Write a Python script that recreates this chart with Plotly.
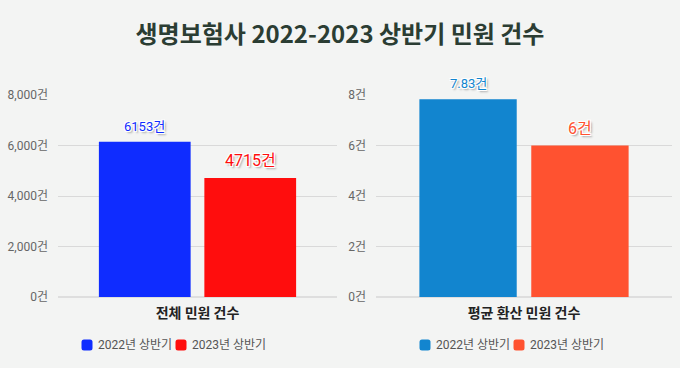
import plotly.graph_objects as go

# ---- data ----
title = "생명보험사 2022-2023 상반기 민원 건수"
series_names = ["2022년 상반기", "2023년 상반기"]
left_category = ["전체 민원 건수"]
left_values_2022 = [6153]
left_values_2023 = [4715]
right_category = ["평균 환산 민원 건수"]
right_values_2022 = [7.83]
right_values_2023 = [6]
left_ticks = [0, 2000, 4000, 6000, 8000]
right_ticks = [0, 2, 4, 6, 8]

left_colors = ["#0f2cff", "#ff0d0d"]
right_colors = ["#1285cf", "#ff5230"]

W, H = 680, 368
BG = "#f3f4f3"
FONT = "Noto Sans CJK KR"
FONT2 = "Roboto, Noto Sans CJK KR"
shadow = "-1px -1px 0 #fff, 1px -1px 0 #fff, -1px 1px 0 #fff, 1px 1px 0 #fff, 2px 2px 2px #999"
BARGAP, BARGROUPGAP = 0.244, 0.13
OFF = (1 - BARGAP) / 4  # centre offset of each bar within its category (category units)

fig = go.Figure()

def add_bar(cat, vals, name, color, xa, ya, size, sign):
    fig.add_trace(go.Bar(
        x=cat, y=vals, name=name, marker=dict(color=color, line=dict(width=0)),
        xaxis=xa, yaxis=ya, showlegend=False, offsetgroup=name, hoverinfo="skip",
    ))
    for i, v in enumerate(vals):
        fig.add_annotation(
            x=i + sign * OFF, y=v, xref=xa, yref=ya, text=f"{v:g}건", showarrow=False,
            xanchor="center", yanchor="bottom", yshift=6,
            font=dict(color=color, size=size, family=FONT2, shadow=shadow),
        )

add_bar(left_category, left_values_2022, series_names[0], left_colors[0], "x", "y", 13, -1)
add_bar(left_category, left_values_2023, series_names[1], left_colors[1], "x", "y", 16, 1)
add_bar(right_category, right_values_2022, series_names[0], right_colors[0], "x2", "y2", 13, -1)
add_bar(right_category, right_values_2023, series_names[1], right_colors[1], "x2", "y2", 16, 1)

ydom = [(H - 297) / H, (H - 95) / H]
xdom1 = [58 / W, 337 / W]
xdom2 = [376 / W, 672 / W]

common_y = dict(
    showgrid=True, gridcolor="#d9d9d9", gridwidth=1,
    zeroline=True, zerolinecolor="#dedede", zerolinewidth=2,
    tickfont=dict(size=12, color="#666", family=FONT2),
    ticklabelstandoff=9, showline=False, automargin=False,
)
common_x = dict(
    showgrid=False, showline=False, ticks="", automargin=False,
    tickfont=dict(size=14, color="#222", family=FONT), ticklabelstandoff=6,
)

fig.update_layout(
    width=W, height=H,
    margin=dict(l=0, r=0, t=0, b=0, autoexpand=False),
    paper_bgcolor=BG, plot_bgcolor=BG,
    font=dict(family=FONT),
    barmode="group", bargap=BARGAP, bargroupgap=BARGROUPGAP,
    title=dict(text=f"<b>{title}</b>", x=0.5, xanchor="center", y=1 - 35 / H, yanchor="middle",
               font=dict(size=24, color="#2b3d33", family=FONT)),
    xaxis=dict(domain=xdom1, anchor="y", range=[-0.5, 0.5],
               tickvals=left_category, ticktext=[f"<b>{c}</b>" for c in left_category], **common_x),
    yaxis=dict(domain=ydom, anchor="x", range=[0, 8000], tickvals=left_ticks,
               ticktext=[f"{v:,}건" for v in left_ticks], **common_y),
    xaxis2=dict(domain=xdom2, anchor="y2", range=[-0.5, 0.5],
                tickvals=right_category, ticktext=[f"<b>{c}</b>" for c in right_category], **common_x),
    yaxis2=dict(domain=ydom, anchor="x2", range=[0, 8], tickvals=right_ticks,
                ticktext=[f"{v}건" for v in right_ticks], **common_y),
    showlegend=False,
)

# ---- manual legends ----
def rounded_square(cx, cy, s, r):
    def X(v):
        return v / W
    def Y(v):
        return 1 - v / H
    x0, x1, y0, y1 = cx - s, cx + s, cy - s, cy + s
    return (f"M {X(x0 + r)} {Y(y0)} L {X(x1 - r)} {Y(y0)} Q {X(x1)} {Y(y0)} {X(x1)} {Y(y0 + r)} "
            f"L {X(x1)} {Y(y1 - r)} Q {X(x1)} {Y(y1)} {X(x1 - r)} {Y(y1)} "
            f"L {X(x0 + r)} {Y(y1)} Q {X(x0)} {Y(y1)} {X(x0)} {Y(y1 - r)} "
            f"L {X(x0)} {Y(y0 + r)} Q {X(x0)} {Y(y0)} {X(x0 + r)} {Y(y0)} Z")

def legend(items, start_x, y):
    x = start_x
    for name, color in items:
        fig.add_shape(type="path", xref="paper", yref="paper", path=rounded_square(x, y, 5.5, 2.5),
                      fillcolor=color, line=dict(width=0), layer="above")
        fig.add_annotation(x=(x + 9) / W, y=1 - y / H, xref="paper", yref="paper",
                           text=name, showarrow=False, xanchor="left", yanchor="middle",
                           font=dict(size=12, color="#555", family=FONT2))
        x += 94

legend(list(zip(series_names, left_colors)), 87, 345)
legend(list(zip(series_names, right_colors)), 425, 345)

fig.write_html("out.html", config={"displayModeBar": False},
               post_script="document.body.style.margin='0';document.body.style.background='%s';" % BG)
